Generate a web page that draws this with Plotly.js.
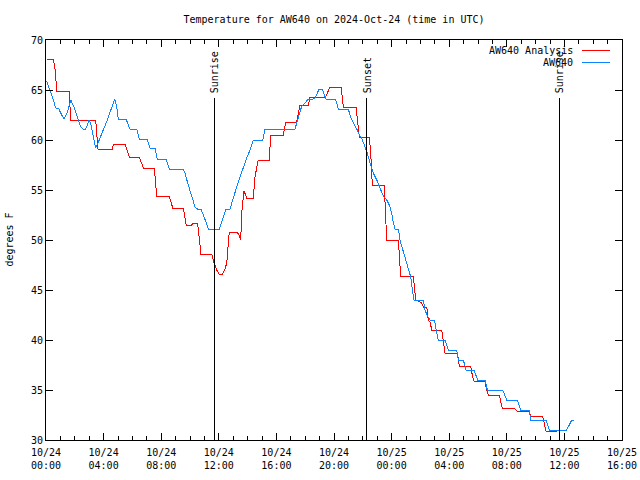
<!DOCTYPE html>
<html>
<head>
<meta charset="utf-8">
<script src="https://cdn.plot.ly/plotly-3.0.1.min.js"></script>
<style>html,body{margin:0;padding:0;background:#fff}#chart{width:640px;height:480px}
#chart svg path{shape-rendering:crispEdges}</style>
</head>
<body>
<div id="chart"></div>
<script>
// Hours since 2024-10-24 00:00 UTC and temperatures (deg F)
var analysisHours = [0.05,0.51,0.65,0.74,1.60,1.72,3.45,3.61,4.60,4.69,5.49,5.78,6.48,6.76,7.52,7.69,8.56,8.80,9.53,9.74,10.12,10.19,10.53,10.76,11.51,11.67,11.85,12.03,12.27,12.43,12.55,12.64,12.73,13.24,13.42,13.52,13.61,13.75,13.94,14.40,14.51,14.74,15.51,15.60,16.48,16.65,17.41,17.64,18.22,18.33,19.42,19.72,20.49,20.65,21.53,21.76,22.45,22.55,22.66,23.49,23.56,23.66,24.47,24.63,25.51,25.67,26.09,26.20,26.44,26.55,26.67,26.79,27.48,27.59,27.71,28.52,28.63,28.70,29.49,29.63,29.72,30.49,30.60,30.72,31.48,31.60,31.69,32.50,32.69,33.56,33.66,34.49,34.60,34.72,35.47];
var analysisTemps = [68.1,68.1,66.9,64.9,64.9,62.0,62.0,59.1,59.1,59.6,59.6,58.3,58.3,57.2,57.2,54.4,54.4,53.2,53.2,51.5,51.5,51.7,51.7,48.6,48.6,47.7,47.0,46.6,46.6,47.1,47.7,49.7,50.8,50.8,50.5,50.0,53.0,54.9,54.2,54.2,56.3,58.0,58.0,60.5,60.5,61.8,61.8,63.5,63.5,64.3,64.3,65.3,65.3,63.3,63.3,60.3,60.3,58.7,55.5,55.5,53.0,50.0,50.0,46.4,46.4,44.0,43.7,43.3,43.3,42.0,41.8,41.0,41.0,39.7,38.7,38.7,38.2,37.4,37.4,36.3,35.9,35.9,35.0,34.5,34.5,33.7,33.2,33.2,32.9,32.9,32.4,32.4,31.8,30.9,30.9];

var obsHours = [0.05,0.21,0.33,0.51,0.67,0.90,1.02,1.25,1.48,1.72,1.94,2.17,2.41,2.59,2.76,2.87,2.99,3.10,3.28,3.45,3.61,3.80,4.03,4.26,4.49,4.77,4.91,5.02,5.56,5.65,5.83,6.30,6.48,7.03,7.22,7.57,7.73,8.33,8.56,9.53,9.65,9.88,10.12,10.35,10.51,10.76,11.11,11.27,12.03,12.20,12.36,12.50,12.78,13.01,13.24,13.47,13.70,13.94,14.17,14.40,15.05,15.21,17.29,17.41,17.59,17.76,17.99,18.22,18.56,18.68,18.84,18.98,19.19,19.31,19.44,20.07,20.19,20.30,20.99,21.16,21.34,21.58,21.76,21.92,22.15,22.31,22.50,22.73,22.97,23.19,23.42,23.66,23.84,24.01,24.12,24.24,24.47,24.58,24.93,25.16,25.33,25.44,25.56,26.20,26.32,26.46,26.67,26.94,27.01,27.13,27.24,27.71,27.83,27.94,28.52,28.63,28.98,29.17,29.72,29.86,29.98,30.49,30.65,31.72,31.88,32.00,32.73,32.87,32.97,33.56,33.66,34.72,34.81,34.95,36.16,36.32,36.51,36.69];
var obsTemps = [65.9,65.3,64.8,64.0,63.2,63.1,62.7,62.1,62.8,64.0,63.3,62.2,61.3,61.1,61.1,61.5,62.0,61.7,60.5,59.2,59.7,60.3,61.2,62.0,63.0,64.1,63.3,62.1,62.1,61.8,61.1,61.1,60.1,60.1,59.2,59.2,58.1,58.1,57.1,57.1,56.7,55.5,54.3,53.3,53.1,53.1,51.8,51.1,51.1,51.8,52.5,53.1,53.1,54.3,55.3,56.3,57.3,58.2,59.0,60.0,60.0,61.1,61.1,61.7,62.7,63.4,63.7,64.1,64.1,64.2,64.7,65.1,65.1,64.7,64.1,64.1,63.7,63.1,63.1,62.3,61.7,61.1,60.5,60.2,59.3,58.7,57.7,56.7,56.0,55.3,54.4,54.0,53.5,52.7,51.7,51.1,51.1,50.0,48.3,47.3,46.3,45.0,44.0,44.0,43.0,42.5,42.0,42.0,41.7,40.8,40.0,40.0,39.5,39.0,39.0,38.0,38.0,37.0,37.0,36.5,36.0,36.0,35.0,35.0,34.5,34.0,34.0,33.3,33.0,33.0,32.0,32.0,31.5,31.0,31.0,31.5,32.0,32.0];

var eventNames = ['Sunrise','Sunset','Sunrise'];
var eventHours = [11.67, 22.29, 35.63];
var eventTopTemp = 64.2;

var tickVals = ['2024-10-24 00:00','2024-10-24 04:00','2024-10-24 08:00','2024-10-24 12:00','2024-10-24 16:00','2024-10-24 20:00','2024-10-25 00:00','2024-10-25 04:00','2024-10-25 08:00','2024-10-25 12:00','2024-10-25 16:00'];
var tickText = ['10/24<br>00:00','10/24<br>04:00','10/24<br>08:00','10/24<br>12:00','10/24<br>16:00','10/24<br>20:00','10/25<br>00:00','10/25<br>04:00','10/25<br>08:00','10/25<br>12:00','10/25<br>16:00'];
var seriesNames = ['AW640 Analysis','AW640'];
var seriesColors = ['#ff0000','#0a84ff'];

var t0 = Date.UTC(2024, 9, 24, 0, 0, 0);
function toMs(h){ return t0 + h * 3600000; }

var FONT = {family: 'DejaVu Sans Mono, monospace', size: 10, color: '#000'};

var traces = [
  {x: analysisHours.map(toMs), y: analysisTemps, type: 'scatter', mode: 'lines', name: seriesNames[0], line: {color: seriesColors[0], width: 1}, showlegend: false},
  {x: obsHours.map(toMs), y: obsTemps, type: 'scatter', mode: 'lines', name: seriesNames[1], line: {color: seriesColors[1], width: 1}, showlegend: false}
];

var shapes = [];
var annotations = [];
eventHours.forEach(function(h, i){
  shapes.push({type: 'line', xref: 'x', yref: 'y', x0: toMs(h), x1: toMs(h), y0: 30, y1: eventTopTemp, line: {color: '#000', width: 1}});
  annotations.push({xref: 'x', yref: 'paper', x: toMs(h), y: 0.862, text: eventNames[i], textangle: -90, showarrow: false, xanchor: 'center', yanchor: 'bottom', font: FONT});
});
// legend (gnuplot style: text then sample line)
var legY = [0.975, 0.944];
seriesNames.forEach(function(n, i){
  annotations.push({xref: 'paper', yref: 'paper', x: 0.918, y: legY[i], text: n, showarrow: false, xanchor: 'right', yanchor: 'middle', font: FONT});
  shapes.push({type: 'line', xref: 'paper', yref: 'paper', x0: 0.9306, x1: 0.979, y0: legY[i], y1: legY[i], line: {color: seriesColors[i], width: 1}});
});
annotations.push({xref: 'paper', yref: 'paper', x: -0.065, y: 0.5, text: 'degrees F', textangle: -90, showarrow: false, xanchor: 'center', yanchor: 'middle', font: FONT});

var layout = {
  width: 640, height: 480,
  margin: {l: 46, r: 18, t: 40, b: 40, pad: 0},
  paper_bgcolor: '#fff', plot_bgcolor: '#fff',
  font: FONT,
  showlegend: false,
  title: {text: 'Temperature for AW640 on 2024-Oct-24 (time in UTC)', font: FONT, x: 0.5, xref: 'paper', xanchor: 'center', y: 1 - 19/480, yanchor: 'middle'},
  xaxis: {
    type: 'date', range: ['2024-10-24 00:00', '2024-10-25 16:00'],
    tickmode: 'array', tickvals: tickVals, ticktext: tickText,
    ticks: 'inside', ticklen: 7, tickcolor: '#000', tickwidth: 1,
    ticklabelstandoff: 3,
    minor: {dtick: 3600000, ticks: 'inside', ticklen: 4, tickcolor: '#000', tickwidth: 1, showgrid: false},
    showline: true, linecolor: '#000', linewidth: 1, mirror: 'allticks',
    showgrid: false, zeroline: false, tickfont: FONT, fixedrange: true
  },
  yaxis: {
    range: [30, 70], tickmode: 'linear', tick0: 30, dtick: 5,
    ticks: 'inside', ticklen: 7, tickcolor: '#000', tickwidth: 1,
    showline: true, linecolor: '#000', linewidth: 1, mirror: 'allticks',
    showgrid: false, zeroline: false, tickfont: FONT, fixedrange: true
  },
  shapes: shapes,
  annotations: annotations
};

Plotly.newPlot('chart', traces, layout, {staticPlot: true, displayModeBar: false});
</script>
</body>
</html>
